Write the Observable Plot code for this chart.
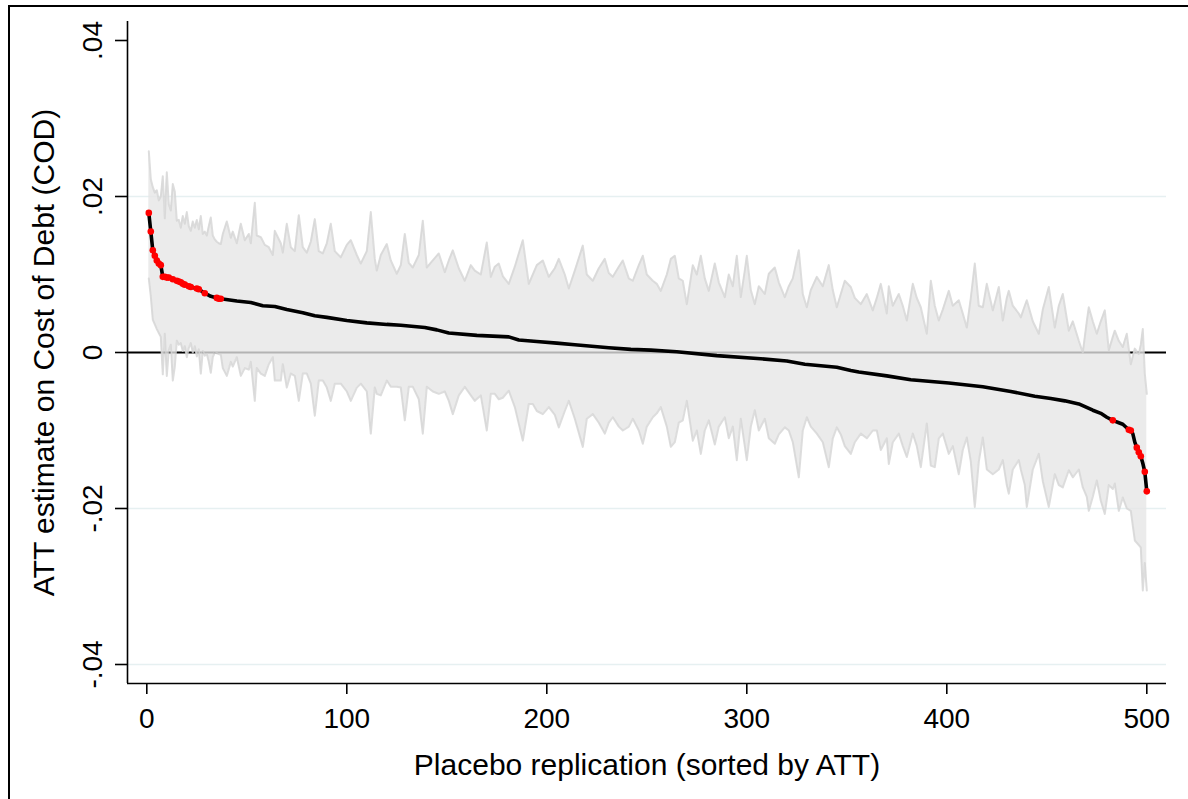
<!DOCTYPE html>
<html>
<head>
<meta charset="utf-8">
<script src="https://cdn.jsdelivr.net/npm/d3@7"></script>
<script src="https://cdn.jsdelivr.net/npm/@observablehq/plot@0.6"></script>
<style>
  html, body { margin: 0; padding: 0; background: #fff; }
  #wrap { position: relative; width: 1188px; height: 799px; overflow: hidden; }
  #border { position: absolute; left: 8px; top: 5px; width: 1300px; height: 900px; border-left: 2px solid #000; border-top: 2px solid #000; pointer-events: none; }
  #chart { position: absolute; left: 0; top: 0; }
</style>
</head>
<body>
<div id="wrap"><div id="chart"></div><div id="border"></div></div>
<script>
// ---- Sorted placebo ATT estimates (replication index, value) ----
const attRep = [1,2,3,4,5,6,7,8,9,10,11,12,13,15,16,17,18,19,21,22,25,26,29,32,35,36,37,45,52,58,64,70,78,84,90,100,110,120,127,135,139,145,151,165,181,186,195,205,214,231,242,252,265,285,307,320,329,345,352,356,370,382,401,418,432,444,452,459,466,473,477,480,483,486,488,491,492,493,494,495,496,497,498,499,500];
const attVal = [0.0179,0.0155,0.0131,0.0124,0.0118,0.0114,0.0112,0.0097,0.0097,0.0096,0.0096,0.0095,0.0094,0.0092,0.0091,0.0090,0.0088,0.0087,0.0085,0.0084,0.0082,0.0081,0.0076,0.0072,0.0070,0.0069,0.0069,0.0066,0.0064,0.0060,0.0059,0.0055,0.0051,0.0047,0.0045,0.0041,0.0038,0.0036,0.0035,0.0033,0.0032,0.0029,0.0025,0.0022,0.0020,0.0016,0.0014,0.0012,0.0010,0.0006,0.0004,0.0003,0.0001,-0.0004,-0.0008,-0.0011,-0.0015,-0.0019,-0.0023,-0.0025,-0.0030,-0.0035,-0.0039,-0.0044,-0.0050,-0.0056,-0.0059,-0.0062,-0.0066,-0.0074,-0.0078,-0.0083,-0.0087,-0.0090,-0.0092,-0.0099,-0.0100,-0.0104,-0.0115,-0.0122,-0.0128,-0.0133,-0.0142,-0.0153,-0.0178];

// ---- Replications whose ATT is significant (red markers) ----
const sigRep = [1,2,3,4,5,6,7,8,9,10,11,13,15,16,17,18,19,21,22,25,26,29,35,36,37,483,491,492,495,496,497,499,500];

// ---- Confidence band (replication index, upper, lower) ----
const bandRep = [1,2,3,4,5,6,7,8,9,10,11,12,13,14,15,16,17,18,19,20,21,22,23,24,25,26,27,28,29,30,31,32,33,34,35,36,37,38,40,42,43,45,47,49,51,52,54,55,57,59,61,63,64,67,68,70,72,74,76,78,80,82,84,86,88,90,92,94,97,100,102,105,107,110,112,114,115,117,120,122,125,127,129,131,133,136,138,140,143,146,149,151,153,156,159,162,164,167,170,172,174,176,178,181,184,188,191,193,195,198,201,204,206,209,211,214,218,220,223,226,229,231,233,236,238,241,243,246,248,250,253,255,257,260,262,264,266,268,270,273,275,277,279,281,284,286,289,291,293,295,297,299,300,302,304,306,309,311,314,316,319,321,323,326,328,330,332,335,338,341,343,345,347,349,352,354,357,360,363,365,367,370,371,373,376,378,380,383,385,387,390,392,394,396,398,401,403,406,408,410,412,414,416,418,420,423,426,428,430,431,433,436,437,439,440,443,446,448,451,454,456,458,461,463,466,468,470,471,473,475,477,479,481,483,484,486,488,490,492,494,496,497,498,499,500];
const bandHi = [0.0258,0.0222,0.0212,0.0205,0.0208,0.0195,0.0200,0.0226,0.0172,0.0231,0.0190,0.0182,0.0216,0.0206,0.0169,0.0170,0.0160,0.0175,0.0165,0.0180,0.0162,0.0156,0.0168,0.0160,0.0170,0.0158,0.0175,0.0152,0.0155,0.0150,0.0162,0.0173,0.0150,0.0145,0.0142,0.0140,0.0139,0.0152,0.0168,0.0147,0.0155,0.0140,0.0165,0.0144,0.0152,0.0140,0.0192,0.0150,0.0148,0.0138,0.0135,0.0125,0.0156,0.0140,0.0128,0.0165,0.0135,0.0130,0.0176,0.0135,0.0128,0.0142,0.0171,0.0130,0.0127,0.0140,0.0165,0.0130,0.0122,0.0138,0.0144,0.0125,0.0114,0.0130,0.0180,0.0120,0.0105,0.0125,0.0139,0.0118,0.0101,0.0112,0.0152,0.0115,0.0109,0.0125,0.0169,0.0109,0.0118,0.0127,0.0103,0.0118,0.0131,0.0108,0.0092,0.0112,0.0105,0.0100,0.0141,0.0097,0.0110,0.0114,0.0098,0.0088,0.0110,0.0144,0.0088,0.0100,0.0112,0.0118,0.0097,0.0108,0.0120,0.0100,0.0082,0.0105,0.0137,0.0100,0.0092,0.0108,0.0120,0.0102,0.0097,0.0110,0.0118,0.0095,0.0092,0.0112,0.0124,0.0100,0.0092,0.0088,0.0079,0.0100,0.0120,0.0124,0.0095,0.0092,0.0062,0.0112,0.0100,0.0124,0.0095,0.0079,0.0114,0.0090,0.0071,0.0100,0.0085,0.0124,0.0071,0.0105,0.0124,0.0080,0.0062,0.0085,0.0075,0.0101,0.0109,0.0090,0.0071,0.0085,0.0095,0.0131,0.0075,0.0058,0.0080,0.0097,0.0085,0.0112,0.0080,0.0058,0.0075,0.0092,0.0084,0.0070,0.0062,0.0075,0.0054,0.0070,0.0088,0.0050,0.0085,0.0060,0.0075,0.0060,0.0041,0.0088,0.0070,0.0058,0.0024,0.0092,0.0060,0.0041,0.0055,0.0079,0.0060,0.0067,0.0050,0.0032,0.0070,0.0114,0.0060,0.0058,0.0088,0.0054,0.0084,0.0041,0.0070,0.0079,0.0060,0.0050,0.0045,0.0060,0.0067,0.0040,0.0024,0.0055,0.0084,0.0032,0.0060,0.0075,0.0028,0.0040,0.0015,0.0000,0.0040,0.0058,0.0040,0.0024,0.0040,0.0054,0.0003,0.0020,0.0028,0.0015,0.0007,0.0024,-0.0015,0.0005,-0.0002,0.0010,0.0030,-0.0027,-0.0053];
const bandLo = [0.0095,0.0072,0.0042,0.0036,0.0030,0.0025,0.0020,-0.0028,0.0024,-0.0030,0.0003,0.0010,-0.0036,-0.0018,0.0015,0.0010,0.0012,0.0002,0.0008,-0.0006,0.0006,0.0012,0.0000,0.0008,-0.0005,0.0004,-0.0027,0.0002,-0.0004,-0.0002,-0.0012,-0.0026,-0.0006,0.0000,-0.0001,-0.0002,-0.0003,-0.0020,-0.0030,-0.0012,-0.0018,-0.0006,-0.0030,-0.0020,-0.0022,-0.0012,-0.0062,-0.0020,-0.0027,-0.0030,-0.0015,-0.0006,-0.0036,-0.0036,-0.0015,-0.0045,-0.0027,-0.0030,-0.0062,-0.0027,-0.0027,-0.0040,-0.0081,-0.0036,-0.0036,-0.0045,-0.0062,-0.0040,-0.0040,-0.0050,-0.0062,-0.0045,-0.0040,-0.0050,-0.0104,-0.0045,-0.0053,-0.0055,-0.0036,-0.0044,-0.0044,-0.0045,-0.0087,-0.0044,-0.0044,-0.0060,-0.0104,-0.0044,-0.0050,-0.0053,-0.0050,-0.0062,-0.0079,-0.0055,-0.0044,-0.0055,-0.0062,-0.0055,-0.0100,-0.0053,-0.0053,-0.0060,-0.0058,-0.0049,-0.0070,-0.0113,-0.0066,-0.0066,-0.0075,-0.0079,-0.0070,-0.0080,-0.0096,-0.0075,-0.0062,-0.0085,-0.0121,-0.0085,-0.0079,-0.0090,-0.0104,-0.0090,-0.0083,-0.0095,-0.0100,-0.0095,-0.0085,-0.0100,-0.0117,-0.0095,-0.0083,-0.0078,-0.0070,-0.0095,-0.0121,-0.0115,-0.0090,-0.0087,-0.0062,-0.0113,-0.0100,-0.0130,-0.0100,-0.0087,-0.0118,-0.0095,-0.0083,-0.0110,-0.0095,-0.0138,-0.0085,-0.0120,-0.0138,-0.0095,-0.0074,-0.0100,-0.0085,-0.0110,-0.0117,-0.0105,-0.0096,-0.0100,-0.0115,-0.0160,-0.0100,-0.0083,-0.0095,-0.0104,-0.0115,-0.0147,-0.0110,-0.0096,-0.0105,-0.0120,-0.0130,-0.0115,-0.0104,-0.0110,-0.0100,-0.0100,-0.0125,-0.0110,-0.0143,-0.0115,-0.0104,-0.0120,-0.0134,-0.0104,-0.0120,-0.0147,-0.0091,-0.0145,-0.0147,-0.0110,-0.0104,-0.0130,-0.0120,-0.0156,-0.0125,-0.0109,-0.0140,-0.0198,-0.0140,-0.0109,-0.0150,-0.0156,-0.0150,-0.0138,-0.0170,-0.0181,-0.0150,-0.0138,-0.0150,-0.0170,-0.0198,-0.0150,-0.0130,-0.0165,-0.0198,-0.0156,-0.0170,-0.0173,-0.0151,-0.0160,-0.0150,-0.0173,-0.0185,-0.0203,-0.0185,-0.0164,-0.0190,-0.0207,-0.0170,-0.0175,-0.0168,-0.0203,-0.0186,-0.0200,-0.0203,-0.0241,-0.0247,-0.0250,-0.0305,-0.0270,-0.0305];

// ---- Axes ----
const yTicks = [-0.04, -0.02, 0, 0.02, 0.04];
const yTickLabels = ["-.04", "-.02", "0", ".02", ".04"];
const yGrid = [-0.04, -0.02, 0.02];
const xTicks = [0, 100, 200, 300, 400, 500];
const xTitle = "Placebo replication (sorted by ATT)";
const yTitle = "ATT estimate on Cost of Debt (COD)";

// ---- Build tables ----
const att = attRep.map((r, i) => ({rep: r, att: attVal[i]}));
const attByRep = new Map(att.map(d => [d.rep, d.att]));
const sig = sigRep.map(r => ({rep: r, att: attByRep.get(r)}));
const band = bandRep.map((r, i) => ({rep: r, hi: bandHi[i], lo: bandLo[i]}));

const W = 1188, H = 799;
const mL = 127, mR = 22, mT = 21, mB = 116;
const xDom = [-9.65, 509.85];
const yDom = [-0.042436, 0.042436];
const pxPerY = 7800;      // pixels per unit of y
const pxPerX = 2.0;
const font = "'Liberation Sans', Arial, Helvetica, sans-serif";

const chart = Plot.plot({
  width: W, height: H,
  marginLeft: mL, marginRight: mR, marginTop: mT, marginBottom: mB,
  x: {domain: xDom, axis: null},
  y: {domain: yDom, axis: null},
  style: {background: "transparent", fontFamily: font, overflow: "visible"},
  marks: [
    Plot.ruleY(yGrid, {stroke: "#e6f0f1", strokeWidth: 1.6}),
    Plot.ruleY([0], {stroke: "#000", strokeWidth: 2}),
    Plot.areaY(band, {x: "rep", y1: "lo", y2: "hi", fill: "#e6e6e6", fillOpacity: 0.78}),
    Plot.lineY(band, {x: "rep", y: "hi", stroke: "#d4d4d4", strokeOpacity: 0.8, strokeWidth: 2}),
    Plot.lineY(band, {x: "rep", y: "lo", stroke: "#d4d4d4", strokeOpacity: 0.8, strokeWidth: 2}),
    Plot.line(att, {x: "rep", y: "att", stroke: "#000", strokeWidth: 3.6}),
    Plot.dot(sig, {x: "rep", y: "att", r: 3.3, fill: "#ff0000", stroke: "none"}),
    // axis lines
    Plot.ruleX([xDom[0]], {stroke: "#000", strokeWidth: 1.6}),
    Plot.ruleY([yDom[0]], {stroke: "#000", strokeWidth: 1.6}),
    // tick marks
    Plot.ruleX(xTicks, {y1: yDom[0], y2: yDom[0] - 11 / pxPerY, stroke: "#000", strokeWidth: 1.6}),
    Plot.ruleY(yTicks, {x1: xDom[0], x2: xDom[0] - 12 / pxPerX, stroke: "#000", strokeWidth: 1.6}),
    // tick labels
    Plot.text(xTicks, {x: d => d, frameAnchor: "bottom", dy: 44, lineAnchor: "bottom", text: d => String(d), fontSize: 28, fill: "#000"}),
    Plot.text(yTicks, {y: d => d, frameAnchor: "left", dx: -25.5, rotate: -90, textAnchor: "middle", lineAnchor: "bottom", text: (d, i) => yTickLabels[i], fontSize: 28, fill: "#000"}),
    // axis titles
    Plot.text([xTitle], {frameAnchor: "bottom", dy: 91.5, lineAnchor: "bottom", text: d => d, fontSize: 30, fill: "#000"}),
    Plot.text([yTitle], {frameAnchor: "left", dx: -73.5, rotate: -90, textAnchor: "middle", lineAnchor: "bottom", text: d => d, fontSize: 30, fill: "#000"})
  ]
});
document.getElementById("chart").appendChild(chart);
</script>
</body>
</html>
